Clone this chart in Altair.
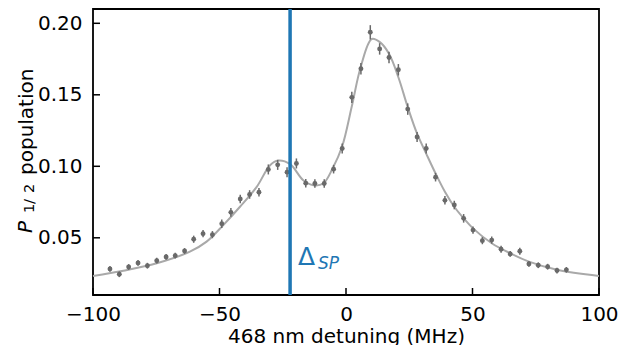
import altair as alt
import pandas as pd

# measured data points (detuning MHz, population, error)
det = [-93.3, -89.6, -85.9, -82.2, -78.5, -74.8, -71.1, -67.5, -63.8, -60.2,
       -56.5, -52.8, -49.1, -45.5, -41.8, -38.1, -34.4, -30.7, -27.0, -23.3,
       -19.6, -15.9, -12.3, -8.6, -4.9, -1.5, 2.3, 5.9, 9.6, 13.3,
       17.0, 20.7, 24.4, 28.1, 31.7, 35.4, 39.1, 42.8, 46.5, 50.2,
       53.9, 57.6, 61.3, 64.9, 68.7, 72.3, 76.0, 79.7, 83.4, 87.1]
pop = [0.0282, 0.0245, 0.0296, 0.0324, 0.0305, 0.0340, 0.0366, 0.0375, 0.0408, 0.0490,
       0.0529, 0.0522, 0.0598, 0.0678, 0.0771, 0.0803, 0.0819, 0.0978, 0.1010, 0.0959,
       0.1020, 0.0882, 0.0880, 0.0880, 0.0980, 0.1124, 0.1482, 0.1682, 0.1937, 0.1821,
       0.1761, 0.1675, 0.1400, 0.1205, 0.1124, 0.0924, 0.0762, 0.0729, 0.0636, 0.0554,
       0.0480, 0.0484, 0.0420, 0.0387, 0.0406, 0.0317, 0.0308, 0.0298, 0.0271, 0.0276]
err = [0.002, 0.002, 0.002, 0.002, 0.002, 0.002, 0.002, 0.002, 0.002, 0.0025,
       0.0025, 0.0025, 0.003, 0.003, 0.003, 0.003, 0.003, 0.0035, 0.0035, 0.0035,
       0.0035, 0.003, 0.003, 0.003, 0.003, 0.0035, 0.004, 0.004, 0.005, 0.004,
       0.004, 0.004, 0.004, 0.0035, 0.0035, 0.003, 0.003, 0.003, 0.003, 0.0025,
       0.0025, 0.0025, 0.0025, 0.002, 0.0025, 0.002, 0.002, 0.002, 0.002, 0.002]

# fit curve
fit_x = [-100, -88.0, -74.8, -61.7, -55.1, -48.5, -41.9, -35.3, -30.0, -26.8,
         -22.1, -16.9, -12.9, -9.0, -5.3, -1.5, 2.3, 5.9, 10.2, 13.4,
         17.0, 20.7, 24.4, 28.1, 31.7, 35.4, 39.1, 42.8, 46.5, 50.2,
         57.6, 64.9, 72.3, 83.4, 100]
fit_y = [0.0233, 0.0270, 0.0322, 0.0403, 0.0473, 0.0589, 0.0717, 0.0856, 0.1008, 0.1040,
         0.1015, 0.0903, 0.0868, 0.0880, 0.0985, 0.1140, 0.1420, 0.1700, 0.1890, 0.1868,
         0.1787, 0.1623, 0.1414, 0.1228, 0.1089, 0.0950, 0.0822, 0.0717, 0.0636, 0.0566,
         0.0462, 0.0392, 0.0333, 0.0276, 0.0233]

delta_sp = -22.1
x_ticks = [-100, -50, 0, 50, 100]
y_ticks = [0.05, 0.10, 0.15, 0.20]

pts = pd.DataFrame({"x": det, "y": pop, "lo": [p - e for p, e in zip(pop, err)],
                    "hi": [p + e for p, e in zip(pop, err)]})
fit = pd.DataFrame({"x": fit_x, "y": fit_y})

W, H = 506, 286
FONT = "DejaVu Sans"

xs = alt.Scale(domain=[-100, 100], nice=False)
ys = alt.Scale(domain=[0.01, 0.21], nice=False)

xax = alt.Axis(values=x_ticks, labelFontSize=20, labelFont=FONT, labelColor="black",
               labelExpr="replace(format(datum.value, 'd'), '-', '\u2212')",
               labelFlush=False, labelOverlap=False,
               domain=False, ticks=False, grid=False, labelPadding=9,
               title="468 nm detuning (MHz)", titleFont=FONT, titleFontSize=20,
               titleFontWeight="normal", titleColor="black", titlePadding=2)
yax = alt.Axis(values=y_ticks, format=".2f", labelFontSize=20, labelFont=FONT,
               labelColor="black", domain=False, ticks=False, grid=False,
               labelFlush=False, labelPadding=11, title=None)

line = alt.Chart(fit).mark_line(color="#a9a9a9", strokeWidth=2, interpolate="catmull-rom").encode(
    x=alt.X("x:Q", scale=xs, axis=xax), y=alt.Y("y:Q", scale=ys, axis=yax))

bars = alt.Chart(pts).mark_rule(color="#696969", strokeWidth=1.5).encode(
    x=alt.X("x:Q", scale=xs), y=alt.Y("lo:Q", scale=ys), y2="hi:Q")

dots = alt.Chart(pts).mark_circle(color="#696969", opacity=1, size=24).encode(
    x=alt.X("x:Q", scale=xs), y=alt.Y("y:Q", scale=ys))

vline = alt.Chart(pd.DataFrame({"x": [delta_sp]})).mark_rule(color="#1f77b4", strokeWidth=3.5).encode(
    x=alt.X("x:Q", scale=xs), y=alt.value(0), y2=alt.value(H))

xt = alt.Chart(pd.DataFrame({"x": x_ticks})).mark_rule(color="black", strokeWidth=1.5).encode(
    x=alt.X("x:Q", scale=xs), y=alt.value(H), y2=alt.value(H - 7))
yt = alt.Chart(pd.DataFrame({"y": y_ticks})).mark_rule(color="black", strokeWidth=1.5).encode(
    y=alt.Y("y:Q", scale=ys), x=alt.value(0), x2=alt.value(7))

lab = pd.DataFrame({"x": [-19.0], "y": [0.031]})
delta = alt.Chart(lab).mark_text(text="Δ", font=FONT, fontSize=25, color="#1f77b4",
                                 align="left", baseline="alphabetic").encode(
    x=alt.X("x:Q", scale=xs), y=alt.Y("y:Q", scale=ys))
sub = alt.Chart(lab).mark_text(text="SP", font=FONT, fontSize=17, fontStyle="italic",
                               color="#1f77b4", align="left", baseline="alphabetic",
                               dx=20, dy=4).encode(
    x=alt.X("x:Q", scale=xs), y=alt.Y("y:Q", scale=ys))

# y-axis title: P_{1/2} population (rotated)
def vtext(s, size, xpix, ypix, italic=False):
    kw = dict(text=s, font=FONT, fontSize=size, angle=270, align="left",
              baseline="alphabetic", color="black")
    if italic:
        kw["fontStyle"] = "italic"
    return alt.Chart(lab).mark_text(**kw).encode(x=alt.value(xpix), y=alt.value(ypix))

t_p = vtext("P", 20, -61, 224, italic=True)
t_1 = vtext("1", 14.5, -59.5, 204)
t_s = vtext("/", 14.5, -59.5, 195)
t_2 = vtext("2", 14.5, -59.5, 184)
t_pop = vtext("population", 20, -60, 166)

chart = alt.layer(line, bars, dots, vline, xt, yt, delta, sub,
                  t_p, t_1, t_s, t_2, t_pop).properties(
    width=W, height=H,
    autosize=alt.AutoSizeParams(type="none"),
    padding={"left": 85, "top": 1, "right": 23, "bottom": 50},
    background="white",
).configure_view(stroke="black", strokeWidth=1.8)

chart.save("out.html", embed_options={"renderer": "svg", "actions": False})
